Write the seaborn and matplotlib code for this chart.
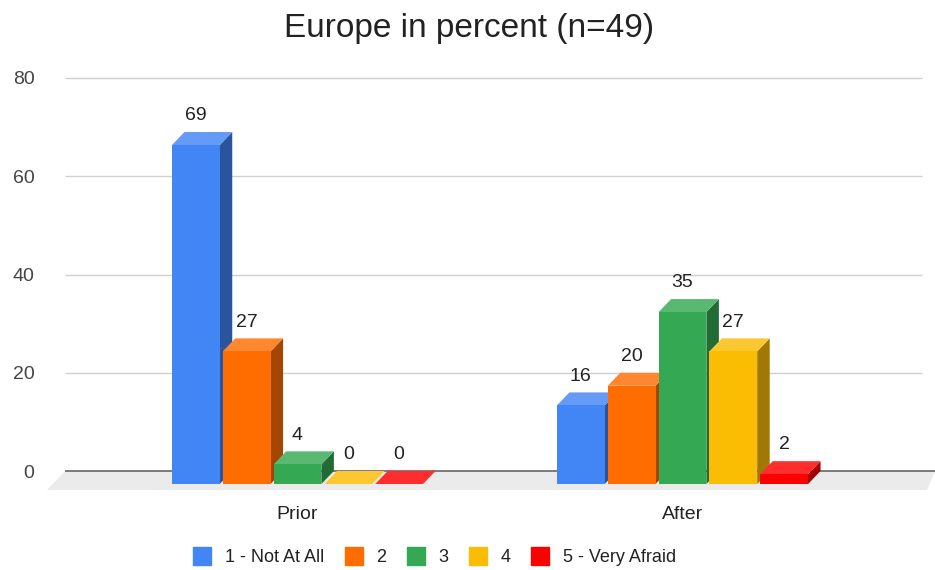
import numpy as np
import pandas as pd
import matplotlib
matplotlib.use("Agg")
import matplotlib.pyplot as plt
import matplotlib.colors as mcolors
from matplotlib.patches import Polygon
from matplotlib.lines import Line2D
import seaborn as sns

# ---- data -------------------------------------------------------------
periods = ["Prior", "After"]
levels = ["1 - Not At All", "2", "3", "4", "5 - Very Afraid"]
prior_pct = [69, 27, 4, 0, 0]
after_pct = [16, 20, 35, 27, 2]
level_colors = ["#4285F4", "#FF6D01", "#34A853", "#FBBC04", "#FF0000"]
y_ticks = [0, 20, 40, 60, 80]
title = "Europe in percent (n=49)"

df = pd.DataFrame({
    "period": np.repeat(periods, len(levels)),
    "level": levels * len(periods),
    "pct": prior_pct + after_pct,
})

# ---- style ------------------------------------------------------------
sns.set_theme(style="white")
plt.rcParams["font.family"] = ["Liberation Sans", "DejaVu Sans"]
TXT = "#222222"
FS = 14

W, H = 935, 570
fig = plt.figure(figsize=(W / 100, H / 100), dpi=100)
ax = fig.add_axes([65 / W, 1 - 490 / H, (922 - 65) / W, (490 - 78) / H])

sns.barplot(data=df, x="period", y="pct", hue="level", order=periods,
            hue_order=levels, palette=level_colors, saturation=1,
            width=0.66, gap=0.06, linewidth=0, errorbar=None,
            legend=False, ax=ax)

# ---- axes geometry ----------------------------------------------------
px_per_x = 385.0          # pixels per category step
px_per_y = 393.0 / 80.0   # pixels per percent
xmin = (65 - 297.5) / px_per_x
xmax = (922 - 297.5) / px_per_x
ymin = -19 / px_per_y
ax.set_xlim(xmin, xmax)
ax.set_ylim(ymin, 80)

# 3D depth of the bars (back plane sits on the value scale)
ddx = 12.5 / px_per_x
ddy = 13.0 / px_per_y

# floor
fl_dx = 18.0 / px_per_x
floor = Polygon([(xmin, 0), ((935 - 297.5) / px_per_x, 0),
                 ((927 - 297.5) / px_per_x, ymin), (xmin - fl_dx, ymin)],
                closed=True, facecolor="#ebebeb", edgecolor="none",
                zorder=0.5, clip_on=False)
ax.add_patch(floor)

# gridlines and baseline
ax.hlines(y_ticks[1:], xmin, xmax, color="#d0d0d0", lw=1.0, zorder=0.4,
          clip_on=False)
ax.plot([xmin, (935 - 297.5) / px_per_x], [0, 0], color="#666666", lw=1.2,
        zorder=0.6, clip_on=False, solid_capstyle="butt")


def shade(c, f):
    r, g, b = mcolors.to_rgb(c)
    return (r * f, g * f, b * f)


def tint(c, f):
    r, g, b = mcolors.to_rgb(c)
    return (r + (1 - r) * f, g + (1 - g) * f, b + (1 - b) * f)


# collect bars with their colours, then extrude them left to right
bars = []
for i, cont in enumerate(ax.containers):
    for p in cont.patches:
        bars.append((p.get_x(), p, level_colors[i]))
bars.sort(key=lambda t: t[0])

for k, (x0, p, col) in enumerate(bars):
    w = p.get_width()
    v = p.get_height()
    z = 2 + k * 0.1
    p.set_y(-ddy)
    p.set_zorder(z + 0.02)
    side = Polygon([(x0 + w, -ddy), (x0 + w + ddx, 0), (x0 + w + ddx, v),
                    (x0 + w, v - ddy)], closed=True,
                   facecolor=shade(col, 0.64), edgecolor="none", zorder=z)
    top = Polygon([(x0, v - ddy), (x0 + ddx, v), (x0 + w + ddx, v),
                   (x0 + w, v - ddy)], closed=True,
                  facecolor=tint(col, 0.18), edgecolor="none", zorder=z + 0.01)
    ax.add_patch(side)
    ax.add_patch(top)
    ax.annotate(f"{v:g}", (x0 + w / 2, v), xytext=(0, 8.5),
                textcoords="offset points", ha="center", va="baseline",
                fontsize=FS, color=TXT, zorder=10)

# ---- ticks, labels ----------------------------------------------------
for s in ax.spines.values():
    s.set_visible(False)
ax.set_yticks(y_ticks)
ax.set_yticklabels([str(t) for t in y_ticks])
ax.tick_params(axis="y", length=0, pad=22, labelsize=FS, labelcolor="#444444")
ax.tick_params(axis="x", length=0, pad=11.5, labelsize=FS, labelcolor=TXT)
ax.set_xlabel("")
ax.set_ylabel("")
ax.grid(False)

fig.text(469 / W, 1 - 28 / H, title, ha="center", va="center",
         fontsize=24, color=TXT)

handles = [Line2D([], [], marker="s", linestyle="none", markersize=13,
                  markerfacecolor=c, markeredgecolor=c) for c in level_colors]
fig.legend(handles, levels, loc="center left",
           bbox_to_anchor=(193 / W, 1 - 558 / H), ncol=5, frameon=False,
           fontsize=13, handlelength=1.05, handletextpad=0.72,
           columnspacing=1.12, borderpad=0, borderaxespad=0,
           labelcolor=TXT)

fig.savefig("out.png", dpi=100, facecolor="white")
